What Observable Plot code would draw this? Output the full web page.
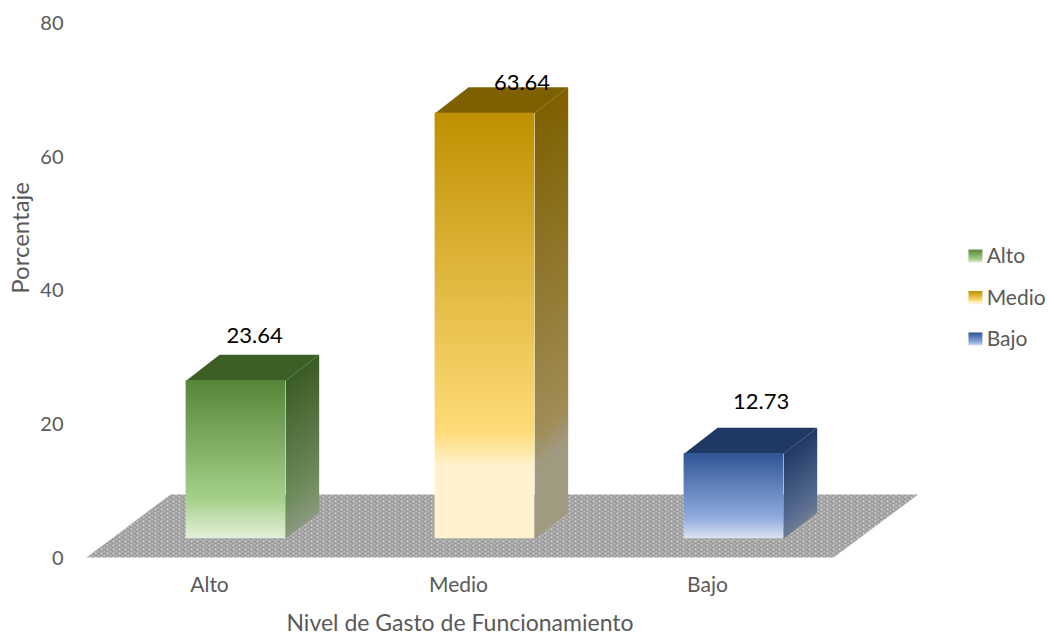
<!DOCTYPE html>
<html>
<head>
<meta charset="utf-8">
<script src="https://cdn.jsdelivr.net/npm/d3@7"></script>
<script src="https://cdn.jsdelivr.net/npm/@observablehq/plot@0.6"></script>
<style>
html,body{margin:0;padding:0;background:#fff}
svg{display:block}
</style>
</head>
<body>
<div id="chart"></div>
<script>
const categories = ["Alto", "Medio", "Bajo"];
const values = [23.64, 63.64, 12.73];
const yTicks = [0, 20, 40, 60, 80];
const frontColors = [
  ["#568538", "#a5d08a", "#e2f0d9"],
  ["#bf9000", "#ffdc78", "#fff2cc"],
  ["#2f5597", "#8faadc", "#dae3f3"]
];
const sideColors = [
  ["#3b5b25", "#6d8a5a", "#8a9a80"],
  ["#7f6000", "#a08c55", "#a09a80"],
  ["#1f3864", "#54698f", "#6f7d94"]
];
const fadeEnd = [1, 0.83, 1];
const topColors = ["#3d5f26", "#7f6000", "#203864"];

// 3D geometry, in scale units
const base = 2.8, depthY = 3.89, depthX = 0.1345, left = -0.1, right = 0.3;
const font = "Lato, Carlito, 'Open Sans', sans-serif";
const H = v => v + depthY;

function defs() {
  const d = d3.create("svg:defs");
  const addStops = (g, cols, end) => {
    g.append("stop").attr("offset", 0).attr("stop-color", cols[0]);
    g.append("stop").attr("offset", 0.75).attr("stop-color", cols[1]);
    g.append("stop").attr("offset", end).attr("stop-color", cols[2]);
    g.append("stop").attr("offset", 1).attr("stop-color", cols[2]);
  };
  categories.forEach((c, i) => {
    addStops(d.append("linearGradient").attr("id", `front${i}`)
      .attr("x1", 0).attr("y1", 0).attr("x2", 0).attr("y2", 1), frontColors[i], fadeEnd[i]);
    const t = depthY / H(values[i]);
    const n = t * t + 1;
    addStops(d.append("linearGradient").attr("id", `side${i}`)
      .attr("x1", t * t / n).attr("y1", t / n).attr("x2", t / n).attr("y2", 1 / n), sideColors[i], fadeEnd[i]);
  });
  const p = d.append("pattern").attr("id", "floor").attr("patternUnits", "userSpaceOnUse")
    .attr("width", 6).attr("height", 4);
  p.append("rect").attr("width", 6).attr("height", 4).attr("fill", "#bcbcbc");
  p.append("rect").attr("x", 0).attr("y", 0).attr("width", 4).attr("height", 1).attr("fill", "#767676");
  p.append("rect").attr("x", 3).attr("y", 2).attr("width", 3).attr("height", 1).attr("fill", "#767676");
  p.append("rect").attr("x", 0).attr("y", 2).attr("width", 3).attr("height", 1).attr("fill", "#929292");
  p.append("rect").attr("x", 4).attr("y", 1).attr("width", 2).attr("height", 1).attr("fill", "#e4e4e4");
  p.append("rect").attr("x", 1).attr("y", 3).attr("width", 2).attr("height", 1).attr("fill", "#e4e4e4");
  return d.node();
}

const floor = [
  {x: -0.5, y: 0}, {x: 2.5, y: 0}, {x: 2.84, y: 9.42}, {x: -0.163, y: 9.42}
];

const barMarks = categories.flatMap((c, i) => {
  const v = values[i] + base, l = i + left, r = i + right;
  return [
    Plot.line([
      {x: r, y: base}, {x: r + depthX, y: base + depthY},
      {x: r + depthX, y: v + depthY}, {x: r, y: v}
    ], {x: "x", y: "y", fill: `url(#side${i})`, stroke: "none"}),
    Plot.line([
      {x: l, y: v}, {x: r, y: v}, {x: r + depthX, y: v + depthY}, {x: l + depthX, y: v + depthY}
    ], {x: "x", y: "y", fill: topColors[i], stroke: "none"}),
    Plot.rect([c], {x1: l, x2: r, y1: base, y2: v, fill: `url(#front${i})`, inset: 0})
  ];
});

// Data labels sit where the reference placed them
const labelX = [0.175, 1.249, 2.209];
const labelY = [33.2, 71.0, 23.2];

// Legend layout
const legendX = 3.044, legendW = 0.056, legendH = 1.95;
const legendY = [45, 38.8, 32.6];

const chart = Plot.plot({
  width: 1048,
  height: 634,
  marginTop: 22,
  marginBottom: 77,
  marginLeft: 86,
  marginRight: 215,
  style: {fontFamily: font, background: "#fff", overflow: "visible"},
  x: {domain: [-0.5, 2.5], axis: null},
  y: {domain: [0, 80], axis: null},
  marks: [
    defs,
    Plot.line(floor, {x: "x", y: "y", fill: "url(#floor)", stroke: "none"}),
    ...barMarks,
    Plot.axisY({ticks: yTicks, tickSize: 0, tickPadding: 23, label: null, fontSize: 20, dy: 1, color: "#595959"}),
    Plot.axisX({ticks: [0, 1, 2], tickFormat: i => categories[i], tickSize: 0, tickPadding: 20, label: null, fontSize: 21, dx: -1.5, color: "#595959"}),
    Plot.text(values, {
      x: (d, i) => labelX[i], y: (d, i) => labelY[i], text: d => d.toFixed(2),
      fontSize: 22, fill: "#000"
    }),
    Plot.text(["Nivel de Gasto de Funcionamiento"], {
      x: 1, frameAnchor: "bottom", lineAnchor: "middle", dy: 66, fontSize: 23, fill: "#595959"
    }),
    Plot.text(["Porcentaje"], {
      y: 47.8, frameAnchor: "left", textAnchor: "middle", rotate: -90, dx: -65, fontSize: 24, fill: "#595959"
    }),
    Plot.rect(categories, {
      x1: () => legendX, x2: () => legendX + legendW,
      y1: (d, i) => legendY[i] - legendH / 2, y2: (d, i) => legendY[i] + legendH / 2,
      fill: (d, i) => `url(#front${i})`
    }),
    Plot.text(categories, {
      x: () => legendX + legendW + 0.015, y: (d, i) => legendY[i], text: d => d,
      textAnchor: "start", fontSize: 21, fill: "#595959"
    })
  ],
  color: {type: "identity"}
});
document.getElementById("chart").appendChild(chart);
</script>
</body>
</html>
